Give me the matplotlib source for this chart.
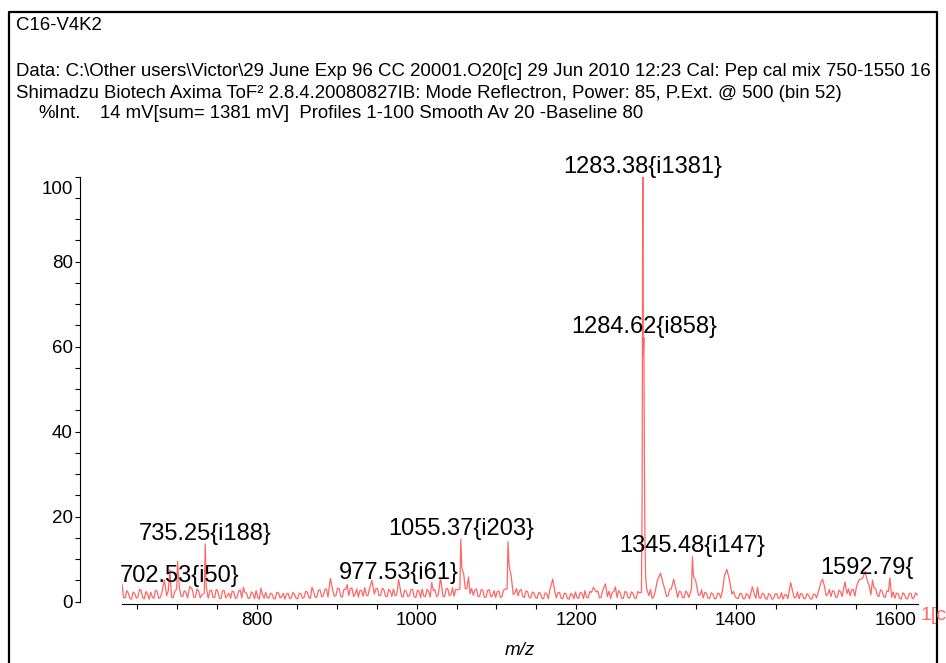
import numpy as np
import matplotlib
matplotlib.use('Agg')
from matplotlib import pyplot as plt
from matplotlib.lines import Line2D

# noise floor of the spectrum, read every 2 m/z; two interleaved lists
# noise_a starts at 631, noise_b at 633, both in steps of 4
noise_a = [
    4.1, 0.9, 2.0, 0.6, 1.9, 1.2, 2.6, 0.7, 1.8, 2.2,
    0.8, 2.4, 1.0, 3.0, 1.4, 2.8, 0.9, 2.0, 3.1, 1.2,
    2.2, 0.9, 2.9, 1.1, 2.5, 1.6, 3.2, 0.8, 2.7, 1.0,
    2.4, 0.7, 2.6, 1.5, 0.8, 2.3, 1.0, 2.8, 0.9, 2.0,
    0.8, 1.9, 2.6, 0.6, 1.7, 2.2, 0.9, 1.8, 0.7, 2.1,
    1.2, 0.6, 2.0, 0.9, 1.7, 0.7, 1.9, 1.0, 2.3, 0.8,
    2.4, 1.1, 2.8, 1.3, 3.0, 1.2, 2.6, 1.5, 3.1, 1.1,
    2.9, 1.4, 3.2, 1.8, 1.1, 2.7, 3.3, 1.4, 3.5, 1.8,
    3.1, 1.5, 2.8, 1.2, 2.5, 3.0, 1.6, 2.7, 1.1, 2.4,
    1.4, 2.9, 1.0, 2.5, 3.0, 1.2, 2.4, 0.9, 2.8, 1.5,
    2.6, 1.2, 3.1, 1.7, 1.3, 2.8, 3.4, 4.0, 3.2, 1.9,
    1.5, 3.0, 1.3, 2.6, 1.1, 2.8, 1.4, 1.0, 2.5, 1.2,
    3.0, 4.5, 3.6, 2.0, 1.4, 2.9, 1.0, 2.4, 0.9, 2.1,
    0.8, 2.0, 0.7, 1.8, 2.9, 1.6, 0.9, 2.2, 0.7, 1.9,
    0.6, 1.7, 2.3, 0.8, 2.0, 2.6, 0.9, 2.2, 1.1, 2.5,
    1.0, 2.3, 1.2, 0.7, 2.4, 1.0, 2.1, 0.8, 2.2, 0.9,
    2.0, 0.8, 2.1, 1.2, 2.6, 1.4, 0.8, 2.5, 3.2, 3.8,
    2.8, 1.4, 3.0, 1.6, 1.0, 2.3, 0.9, 2.1, 1.1, 3.0,
    3.2, 1.6, 0.9, 2.0, 0.8, 1.8, 0.7, 1.9, 2.5, 4.5,
    4.8, 1.8, 1.2, 0.8, 1.8, 0.7, 1.6, 0.6, 1.7, 2.0,
    0.8, 1.8, 0.6, 1.6, 0.7, 1.9, 0.9, 0.6, 1.7, 1.0,
    2.4, 1.0, 0.7, 1.8, 0.8, 1.5, 0.6, 1.7, 2.2, 3.8,
    3.5, 1.8, 1.2, 2.4, 1.1, 2.3, 3.4, 1.9, 1.4, 2.9,
    3.6, 3.9, 4.4, 2.4, 3.8, 1.8, 3.1, 1.2, 2.5, 1.0,
    2.4, 1.0, 0.8, 1.9, 0.6, 1.7, 0.7, 2.0, 0.9, 1.6,
]
noise_b = [
    1.0, 2.6, 0.7, 2.3, 0.8, 2.9, 0.9, 2.4, 0.6, 1.1,
    2.7, 0.8, 2.2, 1.0, 2.6, 1.1, 2.4, 0.9, 1.3, 2.6,
    0.9, 2.5, 1.0, 3.0, 0.9, 2.8, 1.1, 2.6, 1.0, 2.9,
    0.8, 2.6, 0.9, 2.0, 2.5, 0.7, 2.4, 0.9, 2.2, 0.8,
    2.3, 0.7, 1.0, 2.4, 0.8, 0.9, 2.0, 0.7, 2.2, 0.9,
    2.0, 1.8, 0.7, 2.2, 0.8, 2.0, 0.8, 2.4, 0.9, 2.1,
    1.0, 2.7, 1.2, 2.9, 1.1, 2.8, 1.3, 3.2, 1.2, 2.9,
    1.3, 3.1, 1.2, 3.0, 2.6, 1.3, 1.5, 3.1, 1.6, 3.0,
    1.4, 3.2, 1.3, 2.9, 1.2, 1.4, 3.0, 1.3, 2.7, 1.2,
    2.8, 1.1, 2.7, 1.0, 1.3, 2.9, 1.1, 2.6, 1.2, 2.9,
    1.3, 3.0, 1.4, 3.3, 2.9, 1.4, 1.6, 3.0, 1.7, 3.1,
    2.8, 1.2, 2.9, 1.0, 2.7, 1.2, 2.6, 2.4, 1.0, 2.7,
    1.6, 2.3, 1.7, 3.1, 2.6, 1.2, 2.5, 1.0, 2.3, 1.0,
    2.2, 0.8, 2.1, 0.7, 1.2, 2.5, 2.1, 0.8, 2.0, 0.7,
    1.9, 0.7, 0.9, 2.2, 0.7, 1.0, 2.4, 0.8, 2.3, 0.9,
    2.6, 0.9, 2.5, 2.2, 1.0, 2.6, 0.8, 2.4, 0.9, 2.3,
    0.9, 2.4, 0.8, 2.0, 1.3, 2.9, 1.1, 2.0, 1.4, 2.6,
    1.2, 2.9, 1.3, 2.8, 2.4, 1.0, 2.5, 1.0, 2.6, 1.4,
    1.5, 2.8, 2.2, 0.8, 2.1, 0.7, 2.0, 0.9, 1.2, 3.0,
    2.5, 2.4, 0.8, 2.0, 0.7, 1.9, 0.7, 1.8, 0.8, 0.9,
    2.0, 0.7, 1.9, 0.6, 1.8, 0.8, 2.1, 1.6, 0.7, 2.0,
    0.9, 2.3, 1.9, 0.7, 1.9, 0.7, 1.8, 0.9, 1.0, 2.4,
    1.4, 2.9, 2.6, 1.0, 2.7, 1.2, 1.5, 3.0, 2.8, 1.3,
    2.0, 2.2, 2.1, 3.6, 1.6, 3.2, 1.5, 2.8, 1.2, 2.6,
    1.3, 2.3, 2.0, 0.8, 2.1, 0.7, 1.9, 0.7, 2.1, 0.8,
]

# peaks (m/z, %Int)
peak_mz = [684, 691, 699.5, 700.5, 716, 734.0, 735.25, 736.5, 783, 805, 869, 892,
           913, 944, 977.53, 1019, 1030, 1054.2, 1055.37, 1056.6, 1059, 1065,
           1113.3, 1114.5, 1115.8, 1118.5, 1170.5, 1221.5, 1236.5, 1249,
           1281.6, 1282.5, 1283.0, 1283.38, 1283.9, 1284.62, 1285.3, 1286.0,
           1286.8, 1288.2, 1301.5, 1305.5, 1308.5, 1322, 1344.3, 1345.48,
           1346.7, 1349.5, 1385.5, 1388.5, 1391.5, 1420.5, 1427, 1468.5,
           1506.5, 1508.5, 1536.5, 1554, 1558.5, 1561.8, 1565, 1571, 1592.79]
peak_int = [5.1, 7.5, 3.0, 9.5, 3.6, 2.0, 13.6, 3.5, 3.4, 3.2, 3.4, 5.5,
            4.0, 5.0, 5.2, 4.5, 5.6, 3.0, 14.7, 8.0, 6.5, 5.8,
            3.0, 14.1, 8.5, 6.0, 5.3, 3.4, 4.2, 3.5,
            2.2, 25.0, 81.0, 100.0, 58.0, 62.1, 35.0, 15.0,
            6.0, 3.0, 5.0, 6.7, 4.5, 5.3, 3.0, 10.6,
            6.0, 5.0, 6.0, 7.6, 5.5, 3.5, 3.4, 4.5,
            4.6, 5.3, 4.7, 5.1, 5.5, 7.1, 4.6, 5.1, 5.6]

# labelled peaks (the last label is cut off in the original)
label_mz = [702.53, 735.25, 977.53, 1055.37, 1283.38, 1284.62, 1345.48, 1592.79]
label_counts = [50, 188, 61, 203, 1381, 858, 147, 78]
label_text = ['702.53{i50}', '735.25{i188}', '977.53{i61}', '1055.37{i203}',
              '1283.38{i1381}', '1284.62{i858}', '1345.48{i147}', '1592.79{']
total_counts = 1381

W, H = 946, 663
red = '#ff6666'

plt.rcParams['font.family'] = ['Liberation Sans', 'DejaVu Sans']

fig = plt.figure(figsize=(W / 100, H / 100), dpi=100)


def fx(x):
    return x / W


def fy(y):
    return 1 - y / H


# outer frame
fig.add_artist(Line2D([fx(9), fx(9), fx(937), fx(937)], [0, fy(12), fy(12), 0],
                      color='black', lw=1.6, transform=fig.transFigure))

# header lines
hs = 13.4
fig.text(fx(16), fy(25), 'C16-V4K2', fontsize=hs, va='center')
fig.text(fx(16), fy(72), 'Data: C:\\Other users\\Victor\\29 June Exp 96 CC 20001.O20[c] '
         '29 Jun 2010 12:23 Cal: Pep cal mix 750-1550 16', fontsize=hs, va='center')
fig.text(fx(16), fy(93), 'Shimadzu Biotech Axima ToF\u00b2 2.8.4.20080827IB: Mode Reflectron, '
         'Power: 85, P.Ext. @ 500 (bin 52)', fontsize=hs, va='center')
fig.text(fx(38), fy(114), '%Int.', fontsize=hs, va='center')
fig.text(fx(100), fy(114), '14 mV[sum= 1381 mV]  Profiles 1-100 Smooth Av 20 -Baseline 80',
         fontsize=hs, va='center')

ax = fig.add_axes([fx(122), fy(601.7), fx(918) - fx(122), fy(176.7) - fy(601.7)])

# merge the noise floor with the peaks
nz_mz = np.concatenate([631 + 4 * np.arange(len(noise_a)), 633 + 4 * np.arange(len(noise_b))])
nz_int = np.array(noise_a + noise_b)
pk_mz = np.array(peak_mz)
keep = np.array([np.min(np.abs(pk_mz - m)) > 1.5 for m in nz_mz]) & (nz_mz <= 1628)
mz = np.concatenate([nz_mz[keep], pk_mz])
inten = np.concatenate([nz_int[keep], np.array(peak_int)])
order = np.argsort(mz)
ax.plot(mz[order], inten[order], color=red, lw=0.9)

ax.set_xlim(631, 1628)
ax.set_ylim(0, 100)

for s in ['top', 'right']:
    ax.spines[s].set_visible(False)
ax.spines['left'].set_position(('outward', 30))
ax.spines['left'].set_bounds(0, 100)
ax.spines['bottom'].set_position(('outward', 1.6))
ax.spines['left'].set_linewidth(0.8)
ax.spines['bottom'].set_linewidth(0.8)

ax.set_xticks([800, 1000, 1200, 1400, 1600])
ax.set_xticks(np.arange(650, 1628, 50), minor=True)
ax.set_yticks([0, 20, 40, 60, 80, 100])
ax.set_yticklabels(['0', '20', '40', '60', '80', ''])
ax.set_yticks(np.arange(0, 101, 5), minor=True)
ax.tick_params(which='both', direction='out', length=3.5, width=0.8, labelsize=13.5, pad=2)
# the "100" label sits a little below its tick
ax.annotate('100', xy=(0, 100), xycoords=('axes fraction', 'data'), xytext=(-35.5, -9.5),
            textcoords='offset points', ha='right', va='center', fontsize=13.5,
            annotation_clip=False)
ax.set_xlabel('m/z', fontsize=13.5, style='italic')
ax.xaxis.set_label_coords((520 - 122) / (918 - 122), -0.095)

for m, c, t in zip(label_mz, label_counts, label_text):
    h = c / total_counts * 100
    if t.endswith('{'):
        # truncated label: its "{" ends a little right of the peak
        ax.annotate(t, (m, h), xytext=(17, 3), textcoords='offset points',
                    ha='right', va='baseline', fontsize=17, annotation_clip=False)
    else:
        ax.annotate(t, (m, h), xytext=(0, 3), textcoords='offset points',
                    ha='center', va='baseline', fontsize=17, annotation_clip=False)

fig.text(fx(920), fy(615), '1[c', color=red, fontsize=14, va='center')

fig.savefig('out.png', dpi=100)
